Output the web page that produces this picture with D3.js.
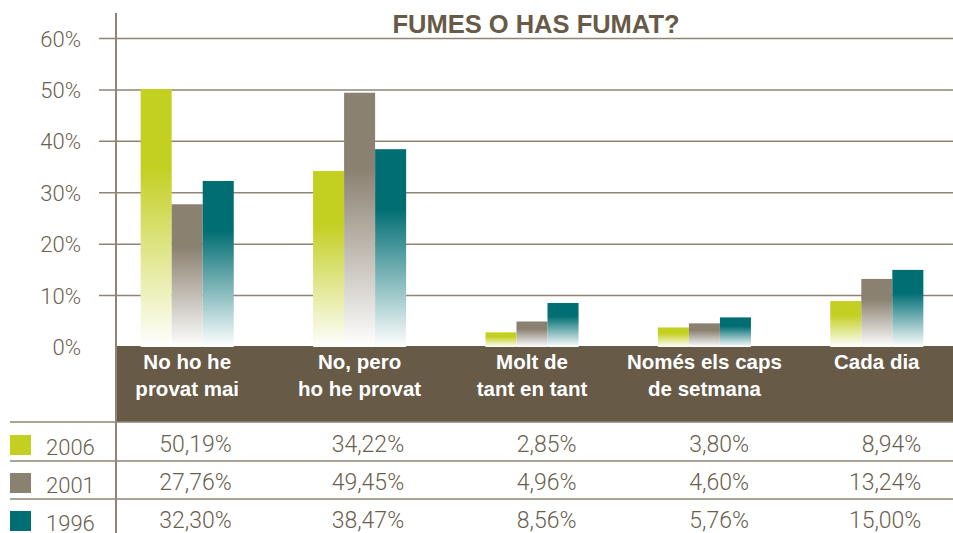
<!DOCTYPE html>
<html>
<head>
<meta charset="utf-8">
<script src="https://cdn.jsdelivr.net/npm/d3@7"></script>
<style>
  body { margin: 0; background: #fff; }
  svg { display: block; }
</style>
</head>
<body>
<div id="chart"></div>
<script>
var categories = [
  ["No ho he", "provat mai"],
  ["No, pero", "ho he provat"],
  ["Molt de", "tant en tant"],
  ["Només els caps", "de setmana"],
  ["Cada dia"]
];
var years = ["2006", "2001", "1996"];
var values2006 = [50.19, 34.22, 2.85, 3.80, 8.94];
var values2001 = [27.76, 49.45, 4.96, 4.60, 13.24];
var values1996 = [32.30, 38.47, 8.56, 5.76, 15.00];
var yTicks = [0, 10, 20, 30, 40, 50, 60];
var title = "FUMES O HAS FUMAT?";

var series = [values2006, values2001, values1996];
var colors = ["#c3cf21", "#8b8171", "#006e73"];

var width = 953;
var height = 533;
var brown = "#675b48";
var lineColor = "#8f8575";
var textColor = "#6a5f4f";
var lightFont = "Roboto, 'Liberation Sans', sans-serif";
var boldFont = "'Liberation Sans', Arial, sans-serif";

var svg = d3.select("#chart").append("svg")
  .attr("width", width)
  .attr("height", height);

var y = d3.scaleLinear().domain([0, 60]).range([347, 38.5]);
var x0 = d3.scaleBand().domain(d3.range(categories.length)).range([101, 963]).paddingInner(0.46).paddingOuter(0.23);
var x1 = d3.scaleBand().domain(d3.range(years.length)).range([0, x0.bandwidth()]);

// gradients
var defs = svg.append("defs");
colors.forEach(function (c, i) {
  var g = defs.append("linearGradient")
    .attr("id", "grad" + i)
    .attr("x1", 0).attr("y1", 0).attr("x2", 0).attr("y2", 1);
  g.append("stop").attr("offset", "0%").attr("stop-color", c);
  g.append("stop").attr("offset", "30%").attr("stop-color", c);
  g.append("stop").attr("offset", "100%").attr("stop-color", "#ffffff");
});

// gridlines
svg.append("g").selectAll("line")
  .data(yTicks.filter(function (d) { return d > 0; }))
  .enter().append("line")
  .attr("x1", 99).attr("x2", width)
  .attr("y1", function (d) { return y(d); })
  .attr("y2", function (d) { return y(d); })
  .attr("stroke", lineColor)
  .attr("stroke-width", 1.5);

// tick labels
svg.append("g").selectAll("text")
  .data(yTicks)
  .enter().append("text")
  .attr("x", 81)
  .attr("y", function (d) { return y(d) + 8; })
  .attr("text-anchor", "end")
  .attr("font-family", lightFont)
  .attr("font-weight", 300)
  .attr("font-size", 22)
  .attr("fill", textColor)
  .text(function (d) { return d + "%"; });

// brown category band
svg.append("rect")
  .attr("x", 116).attr("y", 346)
  .attr("width", width - 116).attr("height", 76)
  .attr("fill", brown);

// bars
var groups = svg.append("g").selectAll("g")
  .data(categories)
  .enter().append("g")
  .attr("transform", function (d, i) { return "translate(" + x0(i) + ",0)"; });

groups.selectAll("rect")
  .data(function (d, i) { return series.map(function (s, j) { return { j: j, v: s[i] }; }); })
  .enter().append("rect")
  .attr("x", function (d) { return x1(d.j); })
  .attr("width", x1.bandwidth())
  .attr("y", function (d) { return y(d.v); })
  .attr("height", function (d) { return y(0) - y(d.v); })
  .attr("fill", function (d) { return "url(#grad" + d.j + ")"; });

groups.each(function (d, i) {
  var t = d3.select(this).append("text")
    .attr("text-anchor", "middle")
    .attr("font-family", boldFont)
    .attr("font-weight", "bold")
    .attr("font-size", 20.5)
    .attr("fill", "#fff");
  d.forEach(function (line, k) {
    t.append("tspan")
      .attr("x", x0.bandwidth() / 2)
      .attr("y", 369 + k * 27)
      .text(line);
  });
});

// title
svg.append("text")
  .attr("x", 536).attr("y", 33)
  .attr("text-anchor", "middle")
  .attr("font-family", boldFont)
  .attr("font-weight", "bold")
  .attr("font-size", 25.5)
  .attr("fill", brown)
  .text(title);

// table lines
[422, 461, 499].forEach(function (ly) {
  svg.append("line")
    .attr("x1", 10).attr("x2", width)
    .attr("y1", ly).attr("y2", ly)
    .attr("stroke", lineColor)
    .attr("stroke-width", 1.5);
});

// y axis line
svg.append("line")
  .attr("x1", 116).attr("x2", 116)
  .attr("y1", 13).attr("y2", height)
  .attr("stroke", lineColor)
  .attr("stroke-width", 2);

// table rows
var rowY = [452, 490, 528];
years.forEach(function (yr, j) {
  svg.append("rect")
    .attr("x", 10).attr("y", rowY[j] - 17)
    .attr("width", 21).attr("height", 20)
    .attr("fill", colors[j]);
  svg.append("text")
    .attr("x", 46).attr("y", rowY[j] + 3)
    .attr("font-family", lightFont)
    .attr("font-weight", 300)
    .attr("font-size", 22)
    .attr("fill", textColor)
    .text(yr);
  svg.append("g").selectAll("text")
    .data(series[j])
    .enter().append("text")
    .attr("x", function (d, i) { return x0(i) + x0.bandwidth() - 2; })
    .attr("y", rowY[j])
    .attr("text-anchor", "end")
    .attr("font-family", lightFont)
    .attr("font-weight", 300)
    .attr("font-size", 23)
    .attr("fill", textColor)
    .text(function (d) { return d.toFixed(2).replace(".", ",") + "%"; });
});
</script>
</body>
</html>
